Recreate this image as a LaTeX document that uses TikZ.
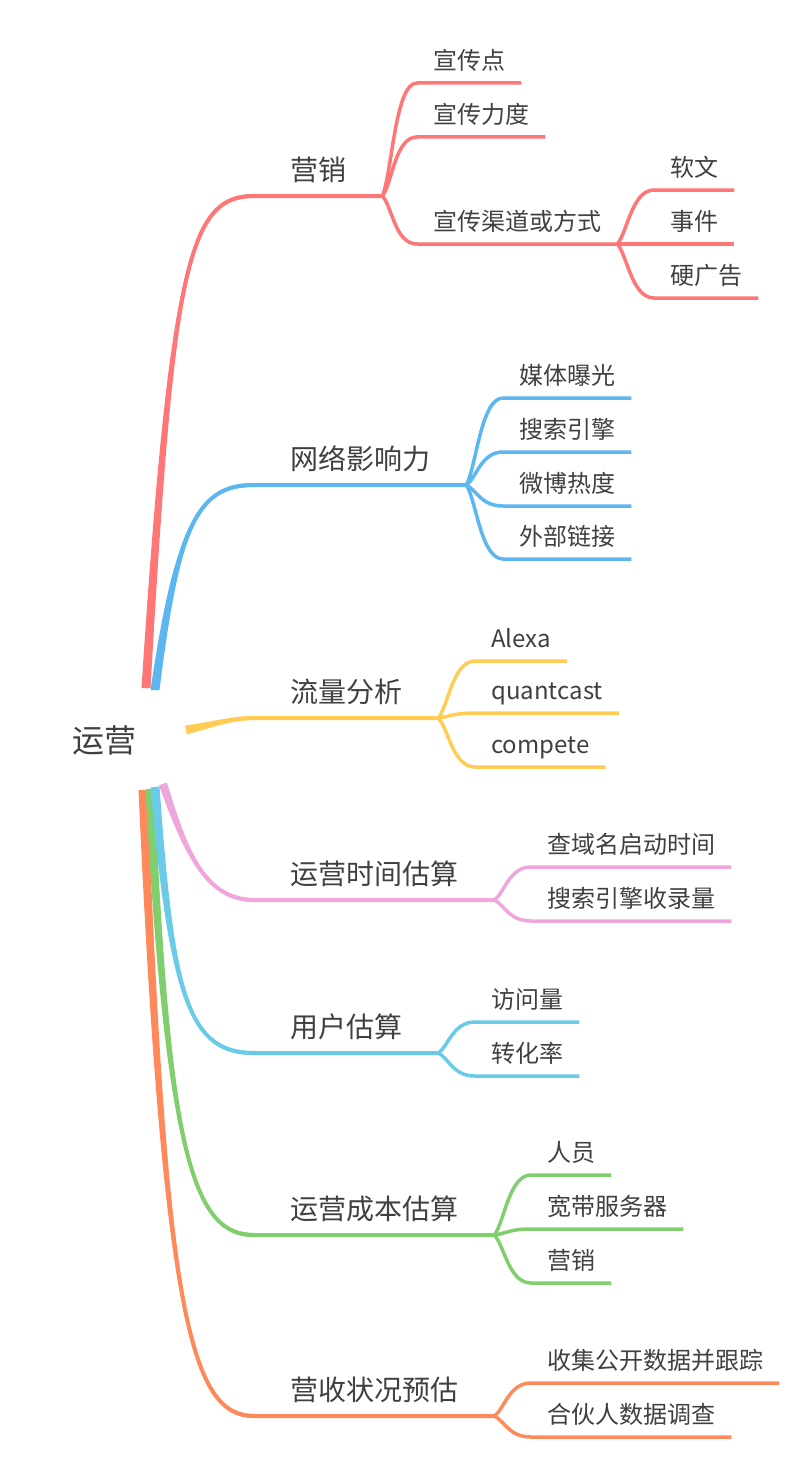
\documentclass[tikz,border=0pt]{standalone}
\usepackage{fontspec}
\setmainfont{Noto Sans CJK SC}
\usetikzlibrary{calc}

\definecolor{inkgray}{RGB}{64,64,64}
\definecolor{mmred}{RGB}{255,118,118}
\definecolor{mmblue}{RGB}{92,182,240}
\definecolor{mmyellow}{RGB}{255,204,86}
\definecolor{mmpink}{RGB}{239,166,221}
\definecolor{mmcyan}{RGB}{106,203,232}
\definecolor{mmgreen}{RGB}{128,206,110}
\definecolor{mmorange}{RGB}{255,137,90}

\tikzset{
  topic/.style={font=\fontsize{32}{36}\selectfont, text=inkgray, inner sep=0pt, anchor=base west},
  mainnode/.style={font=\fontsize{28}{32}\selectfont, text=inkgray, inner xsep=36pt, inner ysep=15pt, text depth=0pt, anchor=south west},
  leaf/.style={font=\fontsize{24}{28}\selectfont, text=inkgray, inner xsep=16pt, inner ysep=13pt, text depth=0pt, anchor=south west},
  trunk/.style={line width=4pt, draw=#1},
  twig/.style={line width=3.5pt, draw=#1},
}

% tapered stem from the root to a main topic
\newcommand{\rootstem}[6]{%
  \fill[#1] ($#2+#6$) .. controls ($#3+0.6*#6$) and ($#4+(0,2)$) .. ($(#5.south west)+(0,2)$)
    -- ($(#5.south west)-(0,2)$) .. controls ($#4-(0,2)$) and ($#3-0.6*#6$) .. ($#2-#6$) -- cycle;
  \draw[trunk=#1] #2 .. controls #3 and #4 .. (#5.south west) -- (#5.south east);
}

\begin{document}
\begin{tikzpicture}[x=1pt,y=-1pt]
  \useasboundingbox (0,0) rectangle (800,1477);
  % ROOT
  \node[topic] (yunying) at (72,752) {运营};
  \coordinate (o-yx) at (146,688);
  \coordinate (o-wl) at (155,690);
  \coordinate (o-ll) at (186,730);
  \coordinate (o-sj) at (163,784);
  \coordinate (o-yh) at (155,787);
  \coordinate (o-cb) at (150,789);
  \coordinate (o-ys) at (143,790);

  % MAIN TOPICS
  \node[mainnode] (yx) at (254,196) {营销};
  \node[mainnode] (wl) at (254,485) {网络影响力};
  \node[mainnode] (ll) at (254,718) {流量分析};
  \node[mainnode] (sj) at (254,900) {运营时间估算};
  \node[mainnode] (yh) at (254,1053) {用户估算};
  \node[mainnode] (cb) at (254,1235) {运营成本估算};
  \node[mainnode] (ys) at (254,1416) {营收状况预估};

  % stems (upper ones, then lower ones)
  \rootstem{mmred}{(o-yx)}{(172,260)}{(190,196)}{yx}{(4.5,0)}
  \rootstem{mmblue}{(o-wl)}{(178,520)}{(200,485)}{wl}{(4.5,0)}
  \rootstem{mmyellow}{(o-ll)}{(215,724)}{(232,718)}{ll}{(0.9,4.4)}
  \rootstem{mmorange}{(o-ys)}{(165,1320)}{(192,1416)}{ys}{(-4.5,0)}
  \rootstem{mmgreen}{(o-cb)}{(168,1160)}{(195,1235)}{cb}{(-4.5,0)}
  \rootstem{mmcyan}{(o-yh)}{(172,1000)}{(190,1053)}{yh}{(-4.5,0.5)}
  \rootstem{mmpink}{(o-sj)}{(185,850)}{(205,900)}{sj}{(-4,1.3)}

  % 营销
  \node[leaf] (xcd) at (417,83) {宣传点};
  \node[leaf] (xld) at (417,137) {宣传力度};
  \node[leaf] (qudao) at (417,244) {宣传渠道或方式};
  \draw[twig=mmred] (yx.south east) .. controls +(10,-25) and +(-22,0) .. (xcd.south west) -- (xcd.south east);
  \draw[twig=mmred] (yx.south east) .. controls +(10,-13) and +(-22,0) .. (xld.south west) -- (xld.south east);
  \draw[twig=mmred] (yx.south east) .. controls +(10,11) and +(-22,0) .. (qudao.south west) -- (qudao.south east);
  \node[leaf] (ruanwen) at (654,190) {软文};
  \node[leaf] (shijian) at (654,244) {事件};
  \node[leaf] (yingguang) at (654,298) {硬广告};
  \draw[twig=mmred] (qudao.south east) .. controls +(10,-12) and +(-22,0) .. (ruanwen.south west) -- (ruanwen.south east);
  \draw[twig=mmred] (qudao.south east) -- (shijian.south west) -- (shijian.south east);
  \draw[twig=mmred] (qudao.south east) .. controls +(10,12) and +(-22,0) .. (yingguang.south west) -- (yingguang.south east);

  % 网络影响力
  \node[leaf] (meiti) at (503,398) {媒体曝光};
  \node[leaf] (sousuo) at (503,452) {搜索引擎};
  \node[leaf] (weibo) at (503,506) {微博热度};
  \node[leaf] (wailian) at (503,559) {外部链接};
  \draw[twig=mmblue] (wl.south east) .. controls +(10,-19) and +(-22,0) .. (meiti.south west) -- (meiti.south east);
  \draw[twig=mmblue] (wl.south east) .. controls +(10,-7) and +(-22,0) .. (sousuo.south west) -- (sousuo.south east);
  \draw[twig=mmblue] (wl.south east) .. controls +(10,5) and +(-22,0) .. (weibo.south west) -- (weibo.south east);
  \draw[twig=mmblue] (wl.south east) .. controls +(10,16) and +(-22,0) .. (wailian.south west) -- (wailian.south east);

  % 流量分析
  \node[leaf] (alexa) at (475,661) {Alexa};
  \node[leaf] (quantcast) at (475,713) {quantcast};
  \node[leaf] (compete) at (475,767) {compete};
  \draw[twig=mmyellow] (ll.south east) .. controls +(10,-13) and +(-22,0) .. (alexa.south west) -- (alexa.south east);
  \draw[twig=mmyellow] (ll.south east) .. controls +(10,-1) and +(-22,0) .. (quantcast.south west) -- (quantcast.south east);
  \draw[twig=mmyellow] (ll.south east) .. controls +(10,11) and +(-22,0) .. (compete.south west) -- (compete.south east);

  % 运营时间估算
  \node[leaf] (chayuming) at (531,867) {查域名启动时间};
  \node[leaf] (shoulu) at (531,921) {搜索引擎收录量};
  \draw[twig=mmpink] (sj.south east) .. controls +(10,-7) and +(-22,0) .. (chayuming.south west) -- (chayuming.south east);
  \draw[twig=mmpink] (sj.south east) .. controls +(10,5) and +(-22,0) .. (shoulu.south west) -- (shoulu.south east);

  % 用户估算
  \node[leaf] (fangwen) at (475,1022) {访问量};
  \node[leaf] (zhuanhua) at (475,1076) {转化率};
  \draw[twig=mmcyan] (yh.south east) .. controls +(10,-7) and +(-22,0) .. (fangwen.south west) -- (fangwen.south east);
  \draw[twig=mmcyan] (yh.south east) .. controls +(10,5) and +(-22,0) .. (zhuanhua.south west) -- (zhuanhua.south east);

  % 运营成本估算
  \node[leaf] (renyuan) at (531,1175) {人员};
  \node[leaf] (kuandai) at (531,1229) {宽带服务器};
  \node[leaf] (yingxiao) at (531,1283) {营销};
  \draw[twig=mmgreen] (cb.south east) .. controls +(10,-13) and +(-22,0) .. (renyuan.south west) -- (renyuan.south east);
  \draw[twig=mmgreen] (cb.south east) .. controls +(10,-1) and +(-22,0) .. (kuandai.south west) -- (kuandai.south east);
  \draw[twig=mmgreen] (cb.south east) .. controls +(10,11) and +(-22,0) .. (yingxiao.south west) -- (yingxiao.south east);

  % 营收状况预估
  \node[leaf] (shouji) at (531,1383) {收集公开数据并跟踪};
  \node[leaf] (hehuoren) at (531,1437) {合伙人数据调查};
  \draw[twig=mmorange] (ys.south east) .. controls +(10,-7) and +(-22,0) .. (shouji.south west) -- (shouji.south east);
  \draw[twig=mmorange] (ys.south east) .. controls +(10,5) and +(-22,0) .. (hehuoren.south west) -- (hehuoren.south east);
\end{tikzpicture}
\end{document}
